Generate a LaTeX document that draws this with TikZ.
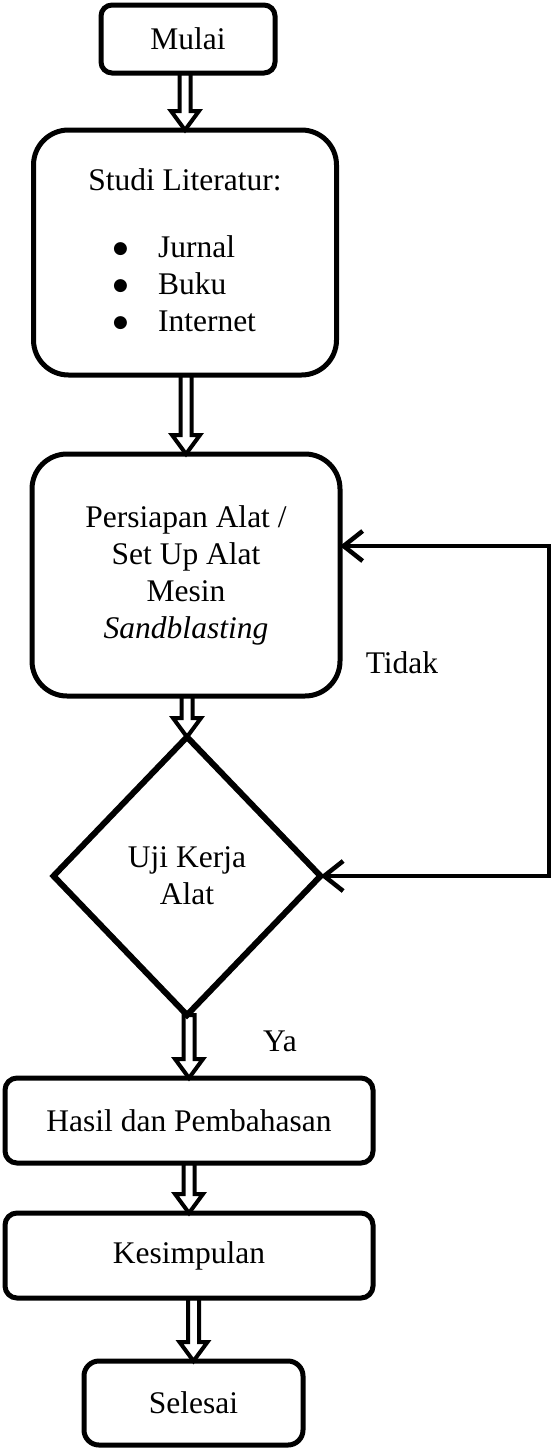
\documentclass[tikz,border=0pt]{standalone}
\usepackage{fontspec}
\setmainfont{Liberation Serif}
\newfontfamily\dotfont{DejaVu Sans}
\usetikzlibrary{calc,arrows.meta,positioning,shapes.geometric}
\newcommand{\flowfont}{\fontsize{31.5}{37}\selectfont}
\newcommand{\bigbullet}{\raisebox{4pt}{\dotfont\fontsize{17}{17}\selectfont ●}}
\newcommand{\holarrow}[2]{%
  \draw[holline] ($(#1.south -| #2.north)+(-5.5,0)$) -- ($(#2.north)+(-5.5,-19)$) -- ($(#2.north)+(-14,-19)$) -- (#2.north) -- ($(#2.north)+(14,-19)$) -- ($(#2.north)+(5.5,-19)$) -- ($(#1.south -| #2.north)+(5.5,0)$) -- cycle;}

\begin{document}
\begin{tikzpicture}[x=1pt, y=-1pt, every node/.style={font=\flowfont},
    box/.style={draw, line width=5pt, rounded corners=#1, inner sep=0pt, outer sep=0pt, align=center},
    box/.default=12pt,
    item/.style={anchor=west, inner sep=0pt},
    holline/.style={line width=4pt, line join=miter},
    backline/.style={line width=4.5pt, {Straight Barb[length=19pt,width=30pt]}-{Straight Barb[length=19pt,width=30pt]}}]
      \useasboundingbox (0, 0) rectangle (551, 1448);

      \node[box=11pt, minimum width=174pt, minimum height=68pt] (mulai) at (188, 39) {Mulai};
      \node[box=35pt, minimum width=303pt, minimum height=245pt] (studi) at (185, 252.5) {};
      \node[box=35pt, minimum width=308pt, minimum height=242pt] (siap) at (186, 575)
        {Persiapan Alat /\\Set Up Alat\\Mesin\\\textit{Sandblasting}};
      \node[draw, diamond, line width=6pt, minimum width=267pt, minimum height=278pt, inner sep=0pt, outer sep=0pt, align=center] (uji) at (187, 876)
        {Uji Kerja\\Alat};
      \node[box, minimum width=368pt, minimum height=85pt] (hasil) at (189, 1120.5) {Hasil dan Pembahasan};
      \node[box, minimum width=368pt, minimum height=85pt] (simpul) at (189, 1255.5) {Kesimpulan};
      \node[box=15pt, minimum width=219pt, minimum height=84pt] (selesai) at (193.5, 1403) {Selesai};

      % isi studi literatur
      \node at (185, 180) {Studi Literatur:};
      \node[item] at (113, 247) {\bigbullet\hspace{30pt}Jurnal};
      \node[item] at (113, 284) {\bigbullet\hspace{30pt}Buku};
      \node[item] at (113, 321) {\bigbullet\hspace{30pt}Internet};

      \node at (402, 663) {Tidak};
      \node at (280, 1041) {Ya};

      \holarrow{mulai}{studi}
      \holarrow{studi}{siap}
      \holarrow{siap}{uji}
      \holarrow{uji}{hasil}
      \holarrow{hasil}{simpul}
      \holarrow{simpul}{selesai}

      \draw[backline] ([yshift=29pt]siap.east) -- ++(209, 0) |- (uji.east);
    \end{tikzpicture}
\end{document}
